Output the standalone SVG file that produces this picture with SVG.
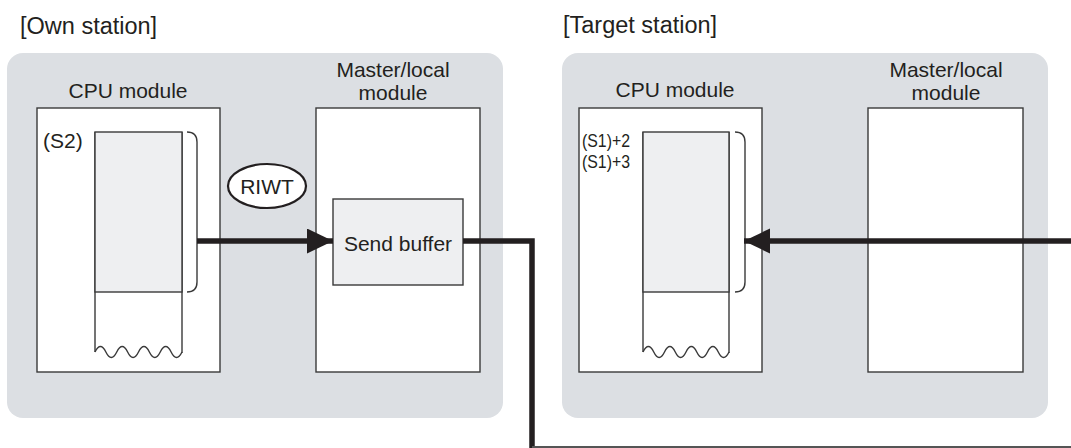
<svg xmlns="http://www.w3.org/2000/svg" width="1071" height="448" viewBox="0 0 1071 448">
<style>
text{font-family:"Liberation Sans",Arial,sans-serif;fill:#231f20}
.title{font-size:23.5px}
.lbl{font-size:21px}
.small{font-size:19px}
.panel{fill:#dcdfe3}
.box{fill:#ffffff;stroke:#3a3a3a;stroke-width:1.4}
.mem{fill:#eeeff1;stroke:#3a3a3a;stroke-width:1.4}
.thin{fill:none;stroke:#3a3a3a;stroke-width:1.4}
.conn{fill:none;stroke:#231f20;stroke-width:5.5}
</style>
<defs>
<marker id="ah" markerUnits="userSpaceOnUse" markerWidth="27" markerHeight="26" refX="26" refY="12.5" orient="auto">
<path d="M0,0 L26,12.5 L0,25 Z" fill="#231f20"/>
</marker>
</defs>
<g id="own-station">
<text class="title" x="20" y="34">[Own station]</text>
<rect class="panel" x="7" y="53" width="496" height="365" rx="16"/>
</g>
<g id="target-station">
<text class="title" x="563" y="33">[Target station]</text>
<rect class="panel" x="562" y="53" width="486" height="365" rx="16"/>
</g>
<g id="own-cpu">
<text class="lbl" x="128" y="98" text-anchor="middle">CPU module</text>
<rect class="box" x="37" y="108" width="183" height="264"/>
<path class="thin" d="M95,132 V352 M182,132 V353" />
<rect class="mem" x="95" y="132" width="87" height="160"/>
<path class="thin" d="M95,352 q5.44,-11 10.875,0 t10.875,0 t10.875,0 t10.875,0 t10.875,0 t10.875,0 t10.875,0 t10.875,0"/>
<path class="thin" d="M187,132 q10,0 10,10 V282 q0,10 -10,10"/>
<text class="lbl" x="43" y="148">(S2)</text>
</g>
<g id="own-master">
<text class="lbl" x="393" y="77" text-anchor="middle">Master/local</text>
<text class="lbl" x="393" y="100" text-anchor="middle">module</text>
<rect class="box" x="316" y="108" width="164" height="264"/>
<rect class="mem" x="333" y="199" width="130" height="86"/>
<text class="lbl" x="398" y="251" text-anchor="middle">Send buffer</text>
</g>
<g id="riwt">
<ellipse cx="267" cy="186" rx="39" ry="22" fill="#ffffff" stroke="#231f20" stroke-width="2.2"/>
<text class="lbl" x="267" y="194" text-anchor="middle">RIWT</text>
</g>
<g id="target-cpu">
<text class="lbl" x="675" y="97" text-anchor="middle">CPU module</text>
<rect class="box" x="579" y="108" width="183" height="264"/>
<path class="thin" d="M643,132 V352 M729,132 V353" />
<rect class="mem" x="643" y="132" width="86" height="160"/>
<path class="thin" d="M643,352 q5.375,-11 10.75,0 t10.75,0 t10.75,0 t10.75,0 t10.75,0 t10.75,0 t10.75,0 t10.75,0"/>
<path class="thin" d="M735,132 q10,0 10,10 V282 q0,10 -10,10"/>
<text class="small" x="582" y="147" textLength="48" lengthAdjust="spacingAndGlyphs">(S1)+2</text>
<text class="small" x="582" y="168" textLength="48" lengthAdjust="spacingAndGlyphs">(S1)+3</text>
</g>
<g id="target-master">
<text class="lbl" x="946" y="77" text-anchor="middle">Master/local</text>
<text class="lbl" x="946" y="100" text-anchor="middle">module</text>
<rect class="box" x="868" y="108" width="155" height="264"/>
</g>
<g id="connectors">
<line class="conn" x1="197" y1="241" x2="333" y2="241" marker-end="url(#ah)"/>
<polyline class="conn" points="463,241 532,241 532,448"/>
<line x1="532" y1="447" x2="1071" y2="447" stroke="#555555" stroke-width="2"/>
<line class="conn" x1="1071" y1="241" x2="744" y2="241" marker-end="url(#ah)"/>
</g>
</svg>
